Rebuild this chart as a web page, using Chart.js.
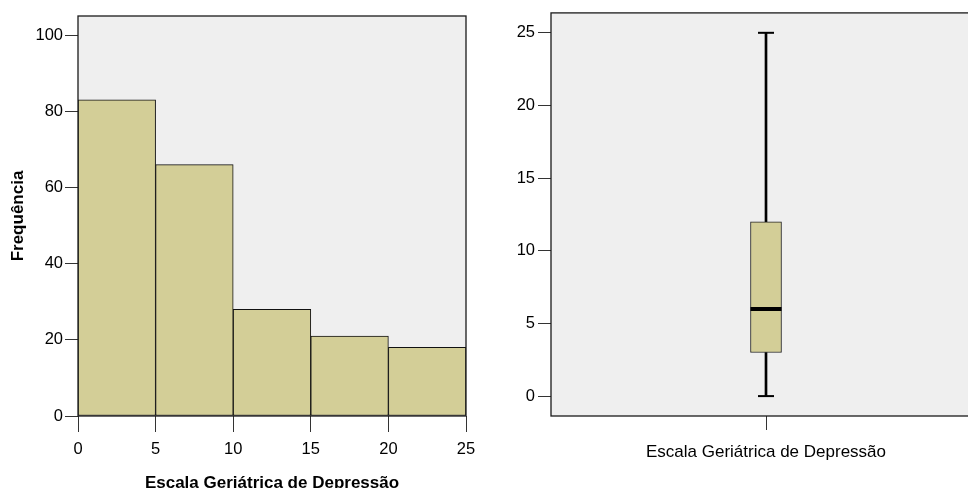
<!DOCTYPE html>
<html><head><meta charset="utf-8">
<script src="https://cdn.jsdelivr.net/npm/chart.js@4"></script>
<style>
html,body{margin:0;padding:0;background:#fff;overflow:hidden;width:968px;height:488px;position:relative}
canvas{position:absolute;top:0}
#h{left:0}
#b{left:490px}
</style></head><body>
<canvas id="h" width="490" height="488"></canvas>
<canvas id="b" width="510" height="488"></canvas>
<script>
// ---- data ----
const binStarts = [0, 5, 10, 15, 20];
const binWidth = 5;
const frequencies = [83, 66, 28, 21, 18];
const histXTicks = [0, 5, 10, 15, 20, 25];
const histYTicks = [0, 20, 40, 60, 80, 100];
const histXTitle = 'Escala Geriátrica de Depressão';
const histYTitle = 'Frequência';

const boxCategory = ['Escala Geriátrica de Depressão'];
const boxMin = [0];
const boxQ1 = [3];
const boxMedian = [6];
const boxQ3 = [12];
const boxMax = [25];
const boxYTicks = [0, 5, 10, 15, 20, 25];

// ---- styles ----
const FONT = 'Liberation Sans, Arial, sans-serif';
const FILL = '#d3ce97';
const BG = '#efefef';

const frame = {
  id: 'frame',
  beforeDraw(c) {
    const a = c.chartArea, x = c.ctx;
    x.save(); x.fillStyle = BG;
    x.fillRect(a.left, a.top, a.right - a.left, a.bottom - a.top);
    x.restore();
  },
  afterDraw(c) {
    const a = c.chartArea, x = c.ctx;
    x.save(); x.strokeStyle = '#1a1a1a'; x.lineWidth = 1.3;
    x.strokeRect(a.left, a.top, a.right - a.left, a.bottom - a.top);
    x.restore();
  }
};

const tickFont = {family: FONT, size: 16.5};

new Chart(document.getElementById('h'), {
  type: 'bar',
  data: {
    datasets: [{
      data: binStarts.map((s, i) => ({x: s + binWidth / 2, y: frequencies[i]})),
      backgroundColor: FILL, borderColor: '#111', borderWidth: 1, borderSkipped: false,
      barPercentage: 1, categoryPercentage: 1
    }]
  },
  options: {
    responsive: false, devicePixelRatio: 1, animation: false, events: [],
    layout: {autoPadding: false, padding: {top: 16, right: 24, left: 0, bottom: 0}},
    plugins: {legend: {display: false}, tooltip: {enabled: false}},
    scales: {
      x: {
        type: 'linear', min: histXTicks[0], max: histXTicks[histXTicks.length - 1], offset: false,
        afterBuildTicks: s => { s.ticks = histXTicks.map(v => ({value: v})); },
        afterFit: s => { s.height = 72; },
        grid: {offset: false, drawOnChartArea: false, tickLength: 16, color: '#333', lineWidth: 1},
        border: {display: false},
        ticks: {padding: 8, font: tickFont, color: '#000', maxRotation: 0, autoSkip: false},
        title: {display: true, text: histXTitle, color: '#000',
          font: {family: FONT, size: 17, weight: 'bold', lineHeight: 1}, padding: {top: 0, bottom: -3.5}}
      },
      y: {
        min: 0, max: 105,
        afterBuildTicks: s => { s.ticks = histYTicks.map(v => ({value: v})); },
        afterFit: s => { s.width = 78; },
        grid: {drawOnChartArea: false, tickLength: 13, color: '#333', lineWidth: 1},
        border: {display: false},
        ticks: {padding: 2, font: tickFont, color: '#000', autoSkip: false},
        title: {display: true, text: histYTitle, color: '#000',
          font: {family: FONT, size: 17, weight: 'bold', lineHeight: 1}, padding: {top: 9.5, bottom: 0}}
      }
    }
  },
  plugins: [frame]
});

new Chart(document.getElementById('b'), {
  type: 'bar',
  data: {
    labels: boxCategory,
    datasets: [
      {type: 'line', data: boxMedian, showLine: false, pointStyle: 'line', pointRadius: 15.5,
        pointBorderWidth: 4, pointBorderColor: '#000', borderColor: '#000', order: 0},
      {type: 'line', data: boxMax, showLine: false, pointStyle: 'line', pointRadius: 8,
        pointBorderWidth: 2, pointBorderColor: '#000', borderColor: '#000', order: 0},
      {type: 'line', data: boxMin, showLine: false, pointStyle: 'line', pointRadius: 8,
        pointBorderWidth: 2, pointBorderColor: '#000', borderColor: '#000', order: 0},
      {data: boxQ1.map((q, i) => [q, boxQ3[i]]), backgroundColor: FILL, borderColor: '#222',
        borderWidth: 1, borderSkipped: false, barThickness: 31, grouped: false, order: 1},
      {data: boxQ3.map((q, i) => [q, boxMax[i]]), backgroundColor: '#000', borderWidth: 0,
        barThickness: 2, grouped: false, order: 2},
      {data: boxMin.map((m, i) => [m, boxQ1[i]]), backgroundColor: '#000', borderWidth: 0,
        barThickness: 2, grouped: false, order: 2}
    ]
  },
  options: {
    responsive: false, devicePixelRatio: 1, animation: false, events: [],
    layout: {autoPadding: false, padding: {top: 12, right: 19, left: 0, bottom: 0}},
    plugins: {legend: {display: false}, tooltip: {enabled: false}},
    scales: {
      x: {
        type: 'category', offset: true,
        afterFit: s => { s.height = 72; },
        grid: {offset: false, drawOnChartArea: false, tickLength: 14, color: '#333', lineWidth: 1},
        border: {display: false},
        ticks: {padding: 12, font: {family: FONT, size: 17}, color: '#000', maxRotation: 0}
      },
      y: {
        min: -1.37, max: 26.37,
        afterBuildTicks: s => { s.ticks = boxYTicks.map(v => ({value: v})); },
        afterFit: s => { s.width = 61; },
        grid: {drawOnChartArea: false, tickLength: 13, color: '#333', lineWidth: 1},
        border: {display: false},
        ticks: {padding: 3, font: tickFont, color: '#000', autoSkip: false}
      }
    }
  },
  plugins: [frame]
});
</script>
</body></html>
